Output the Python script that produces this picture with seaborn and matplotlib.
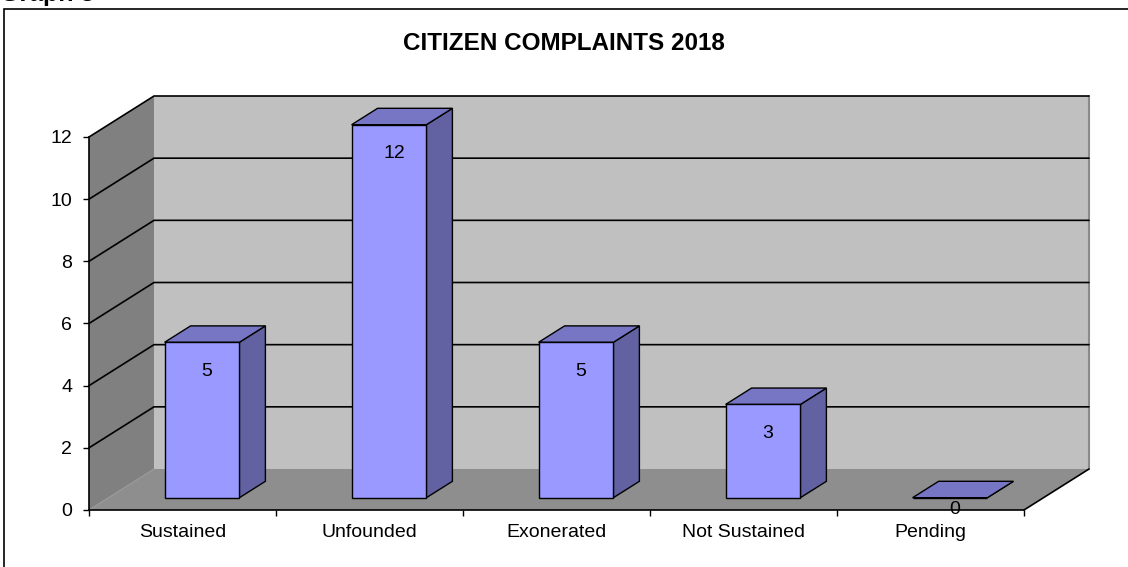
import matplotlib
matplotlib.use("Agg")
import matplotlib.pyplot as plt
from matplotlib.patches import Polygon, Rectangle
import numpy as np
import seaborn as sns

# ---------------- data ----------------
categories = ["Sustained", "Unfounded", "Exonerated", "Not Sustained", "Pending"]
complaints = [5, 12, 5, 3, 0]
y_ticks = [0, 2, 4, 6, 8, 10, 12]
title = "CITIZEN COMPLAINTS 2018"
caption = "Graph 3"

# ---------------- style ----------------
sns.set_style("white")
plt.rcParams["font.family"] = ["Liberation Sans", "DejaVu Sans"]

W, H = 1128, 567
fig = plt.figure(figsize=(W / 100, H / 100), dpi=100)
fig.patch.set_facecolor("white")

# pseudo-3D geometry (depth vector in data units)
DX, DY = 0.3476, 1.319
n = len(categories)
ymax = y_ticks[-1]
x_lo, x_hi = -0.5, n - 0.5

ax = fig.add_axes([89 / W, (H - 510) / H, 1000 / W, (510 - 96) / H])
ax.patch.set_visible(False)

FRONT = "#9999FF"
SIDE = "#6262A2"
TOP = "#7676C4"
LABEL_SIZE = 14

sns.barplot(x=categories, y=complaints, color=FRONT, saturation=1, width=0.4,
            edgecolor="black", linewidth=1.0, ax=ax, zorder=4)
bars = list(ax.patches)

# walls and floor
back = Polygon([(x_lo + DX, DY), (x_hi + DX, DY), (x_hi + DX, ymax + DY), (x_lo + DX, ymax + DY)],
               closed=True, fc="#C0C0C0", ec="none", zorder=0)
left = Polygon([(x_lo, 0), (x_lo + DX, DY), (x_lo + DX, ymax + DY), (x_lo, ymax)],
               closed=True, fc="#808080", ec="none", zorder=0)
floor = Polygon([(x_lo, 0), (x_hi, 0), (x_hi + DX, DY), (x_lo + DX, DY)],
                closed=True, fc="#8E8E8E", ec="none", zorder=0.5)
for p in (back, left, floor):
    p.set_clip_on(False)
    ax.add_patch(p)

# left wall / floor seam
ax.plot([x_lo, x_lo + DX], [0, DY], color="#9A9A9A", lw=0.8, zorder=0.6, clip_on=False)
# back wall right edge
ax.plot([x_hi + DX, x_hi + DX], [DY, ymax + DY], color="#8A8A8A", lw=1.5, zorder=0.6, clip_on=False)
# floor right edge
ax.plot([x_hi, x_hi + DX], [0, DY], color="black", lw=1.2, zorder=1, clip_on=False)

# gridlines on walls
for t in y_ticks[1:]:
    ax.plot([x_lo, x_lo + DX, x_hi + DX], [t, t + DY, t + DY], color="black",
            lw=1.2, zorder=1, clip_on=False, solid_joinstyle="miter")

# 3D bar faces and labels
f0, fd = 0.3, 0.4
for p, v in zip(bars, complaints):
    p.set_x(p.get_x() + f0 * DX)
    p.set_y(p.get_y() + f0 * DY)
    x0 = p.get_x()
    x1 = x0 + p.get_width()
    y0 = p.get_y()
    y1 = y0 + p.get_height()
    ddx, ddy = fd * DX, fd * DY
    side = Polygon([(x1, y0), (x1, y1), (x1 + ddx, y1 + ddy), (x1 + ddx, y0 + ddy)],
                   closed=True, fc=SIDE, ec="black", lw=1.0, zorder=3.5)
    top = Polygon([(x0, y1), (x1, y1), (x1 + ddx, y1 + ddy), (x0 + ddx, y1 + ddy)],
                  closed=True, fc=TOP, ec="black", lw=1.0, zorder=3.6)
    ax.add_patch(side)
    ax.add_patch(top)
    ax.annotate(str(v), xy=(x0 + p.get_width() / 2, y1),
                xytext=(5, -29 if v > 0 else -12), textcoords="offset pixels",
                ha="center", va="center", fontsize=LABEL_SIZE, color="black", zorder=6)

# axes
ax.set_xlim(x_lo, x_hi + DX)
ax.set_ylim(0, ymax + DY)
ax.set_yticks(y_ticks)
ax.set_yticklabels([str(t) for t in y_ticks])
ax.set_xticks(range(n))
ax.set_xticklabels(categories)
ax.set_xticks(np.arange(n + 1) - 0.5, minor=True)
ax.set_xlabel("")
ax.set_ylabel("")
ax.tick_params(axis="x", which="major", length=0, pad=10, labelsize=LABEL_SIZE, labelcolor="black")
ax.tick_params(axis="x", which="minor", length=4.5, width=1.0, color="black",
               direction="out", bottom=True)
ax.tick_params(axis="y", which="major", length=4.5, width=1.0, color="black",
               direction="out", left=True, pad=7.5, labelsize=LABEL_SIZE, labelcolor="black")
for s in ("top", "right"):
    ax.spines[s].set_visible(False)
for s in ("left", "bottom"):
    ax.spines[s].set_color("black")
    ax.spines[s].set_linewidth(1.2)
    ax.spines[s].set_zorder(2)
ax.spines["left"].set_bounds(0, ymax)
ax.spines["bottom"].set_bounds(x_lo, x_hi)

# title, caption, frame
fig.text(564 / W, 1 - 43 / H, title, ha="center", va="center",
         fontsize=17.5, fontweight="bold", color="black")
fig.text(0 / W, 1 - 1.5 / H, caption, ha="left", va="baseline",
         fontsize=18, fontweight="bold", color="black")
fig.patches.append(Rectangle((4 / W, -0.5), 2.0, (1 - 9 / H) + 0.5, transform=fig.transFigure,
                             fill=False, ec="black", lw=1.2, zorder=10))

fig.savefig("out.png", dpi=100)
